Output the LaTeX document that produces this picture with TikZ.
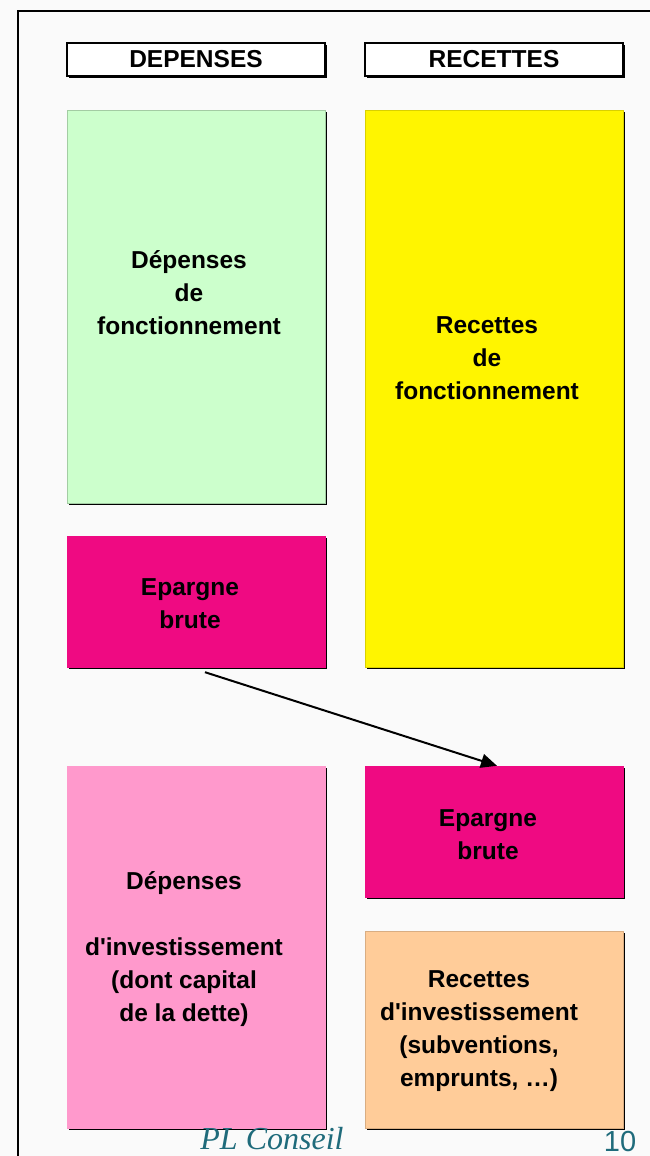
\documentclass[tikz,border=0pt]{standalone}
\usepackage{fontspec}
\setmainfont{Liberation Sans}
\newfontfamily\serifital{Liberation Serif}
\usetikzlibrary{positioning,shadows,arrows.meta}

\definecolor{fond}{HTML}{FAFAFA}
\definecolor{vertclair}{HTML}{CCFFCC}
\definecolor{jaune}{HTML}{FFF500}
\definecolor{magenta}{HTML}{EF0A82}
\definecolor{rose}{HTML}{FF99CC}
\definecolor{orange}{HTML}{FFCC99}
\definecolor{canard}{HTML}{1F6B7B}

\tikzset{
  boite/.style={rectangle, minimum width=258pt, inner sep=0pt,
    drop shadow={shadow xshift=2pt, shadow yshift=-2pt, fill=black, opacity=1}},
  entete/.style={boite, fill=white, draw=black, line width=1.2pt, minimum height=33pt},
  texte/.style={align=center, font=\bfseries\fontsize{24.5}{33}\selectfont},
  fleche/.style={line width=2pt, -{Triangle[length=16pt,width=14pt]}}
}

\begin{document}
\begin{tikzpicture}[x=1pt, y=-1pt]

\fill[fond] (0,0) rectangle (650,1156);
\useasboundingbox (0,0) rectangle (650,1156);
\draw[line width=2pt] (18,1156) -- (18,11) -- (650,11);

% en-tetes
\node[entete] (depenses) at (196,59.5) {};
\node[entete] (recettes) at (494,59.5) {};
\node[texte] at (depenses.center) {DEPENSES};
\node[texte] at (recettes.center) {RECETTES};

% section de fonctionnement
\node[boite, fill=vertclair, draw=vertclair!80!black, minimum height=393pt] (depfonct) at (196,306.5) {};
\node[boite, fill=jaune, draw=jaune!85!black, minimum height=557pt] (recfonct) at (494,388.5) {};
\node[boite, fill=magenta, draw=magenta, minimum height=131pt] (epargneA) at (196,601.5) {};

\node[texte] at (189,293) {D\'epenses\\de\\fonctionnement};
\node[texte] at (487,358) {Recettes\\de\\fonctionnement};
\node[texte] at (190,604) {Epargne\\brute};

% section d'investissement
\node[boite, fill=rose, draw=rose, minimum height=362pt] (depinv) at (196,947) {};
\node[boite, fill=magenta, draw=magenta, minimum height=131pt] (epargneB) at (494,831.5) {};
\node[boite, fill=orange, draw=orange!85!black, minimum height=197pt] (recinv) at (494,1029.5) {};

\node[texte] at (488,835) {Epargne\\brute};
\node[texte] at (184,949) {D\'epenses\\[33pt]d\textquotesingle investissement\\(dont capital\\de la dette)};
\node[texte] at (479,1031.5) {Recettes\\d\textquotesingle investissement\\(subventions,\\emprunts, \dots)};

\draw[fleche] ([shift={(9,5)}]epargneA.south) -- ([xshift=3pt]epargneB.north);

% pied de page
\node[font=\serifital\itshape\fontsize{32}{36}\selectfont, text=canard, anchor=base] (auteur) at (272,1149) {PL Conseil};
\node[font=\fontsize{29}{32}\selectfont, text=canard, anchor=base] (numero) at (620,1151) {10};

\end{tikzpicture}
\end{document}
